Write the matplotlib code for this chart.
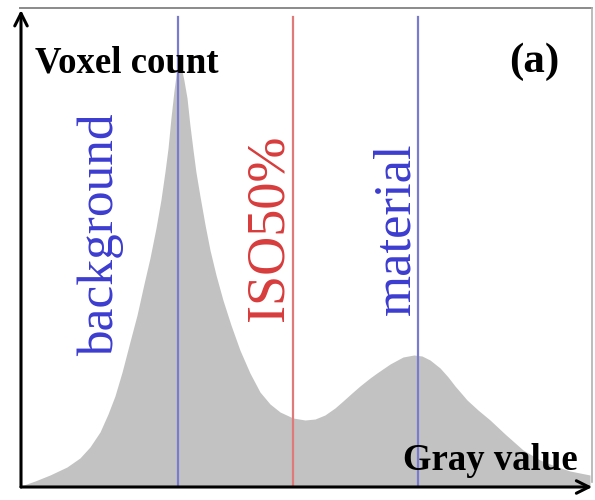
import matplotlib
matplotlib.use("Agg")
import matplotlib.pyplot as plt
from matplotlib.lines import Line2D

# Histogram of voxel gray values (arbitrary count units)
gray = [0, 6.3, 13.0, 20.6, 26.4, 30.9, 35.4, 39.0, 42.1, 45.3, 48.8, 52.0,
        55.1, 57.8, 60.5, 62.7, 64.5, 65.9, 67.2, 68.6, 69.9, 70.8, 71.7, 73.0,
        74.4, 75.7, 77.1, 78.4, 80.2, 82.5, 84.7, 87.4, 90.5, 94.1, 98.1, 102.6,
        107.1, 111.6, 116.1, 121.9, 127.3, 131.8, 136.2, 140.7, 144.3, 148.3,
        151.9, 156.4, 159.5, 165.4, 171.2, 176.1, 179.7, 183.3, 187.8, 191.4,
        194.5, 197.6, 199.9, 204.8, 210.2, 216.9, 225.0, 232.6, 239.3, 246.0,
        250.5, 255.0]
counts = [1, 6, 12, 20, 29, 40, 55, 73, 91, 115, 145, 172, 203, 229, 259, 287,
          315, 339, 369, 397, 419, 425, 421, 407, 389, 362, 337, 315, 291, 262,
          237, 212, 187, 162, 137, 114, 95, 83, 75, 69, 67, 68, 72, 79, 86, 94,
          101, 109, 114, 123, 130, 132, 131, 127, 119, 110, 101, 93, 87, 77, 67,
          53, 37, 27, 21, 16, 14, 12]

# Threshold markers
background_peak = 70.4
iso50 = 121.9
material_peak = 177.9

fig = plt.figure(figsize=(5.95, 5.0), dpi=100)
ax = fig.add_axes([21 / 595, 13 / 500, 569 / 595, 477 / 500])
ax.set_xlim(0, 255)
ax.set_ylim(0, 477)
ax.axis("off")

ax.fill_between(gray, counts, 0, color="#c2c2c2", linewidth=0)

line_top = 470 / 477
ax.axvline(background_peak, ymax=line_top, color="#7a7ad0", lw=1.6)
ax.axvline(iso50, ymax=line_top, color="#e07a7a", lw=1.6)
ax.axvline(material_peak, ymax=line_top, color="#7a7ad0", lw=1.6)

# Axis arrows
arrow = dict(arrowstyle="->,head_length=0.9,head_width=0.45", color="black",
             lw=2.2, shrinkA=0, shrinkB=0)
ax.annotate("", xy=(0, 1.0), xytext=(0, 0), xycoords="axes fraction",
            textcoords="axes fraction", arrowprops=arrow, annotation_clip=False)
ax.annotate("", xy=(1.004, 0), xytext=(0, 0), xycoords="axes fraction",
            textcoords="axes fraction", arrowprops=arrow, annotation_clip=False)

# Thin frame on top and right
fig.add_artist(Line2D([20 / 595, 592 / 595], [1 - 8 / 500, 1 - 8 / 500],
                      color="#8a8a8a", lw=1.4, transform=fig.transFigure))
fig.add_artist(Line2D([592 / 595, 592 / 595], [1 - 8 / 500, 1 - 482 / 500],
                      color="#b0b0b0", lw=1.2, transform=fig.transFigure))

serif = "Liberation Serif"
ax.text(6.3, 424, "Voxel count", fontfamily=serif, fontweight="bold",
        fontsize=26.5, ha="left", va="center", color="black")
ax.text(229.9, 425, "(a)", fontfamily=serif, fontweight="bold",
        fontsize=31, ha="center", va="center", color="black")
ax.text(210.2, 27, "Gray value", fontfamily=serif, fontweight="bold",
        fontsize=26.5, ha="center", va="center", color="black")

ax.text(35.9, 252, "background", fontfamily=serif, fontsize=37, rotation=90,
        ha="center", va="center", color="#3c3cd0")
ax.text(111.2, 259, "ISO50%", fontfamily=serif, fontsize=39, rotation=90,
        ha="center", va="center", color="#d83c3c")
ax.text(168.1, 258, "material", fontfamily=serif, fontsize=38, rotation=90,
        ha="center", va="center", color="#3c3cd0")

fig.savefig("out.png", dpi=100)
